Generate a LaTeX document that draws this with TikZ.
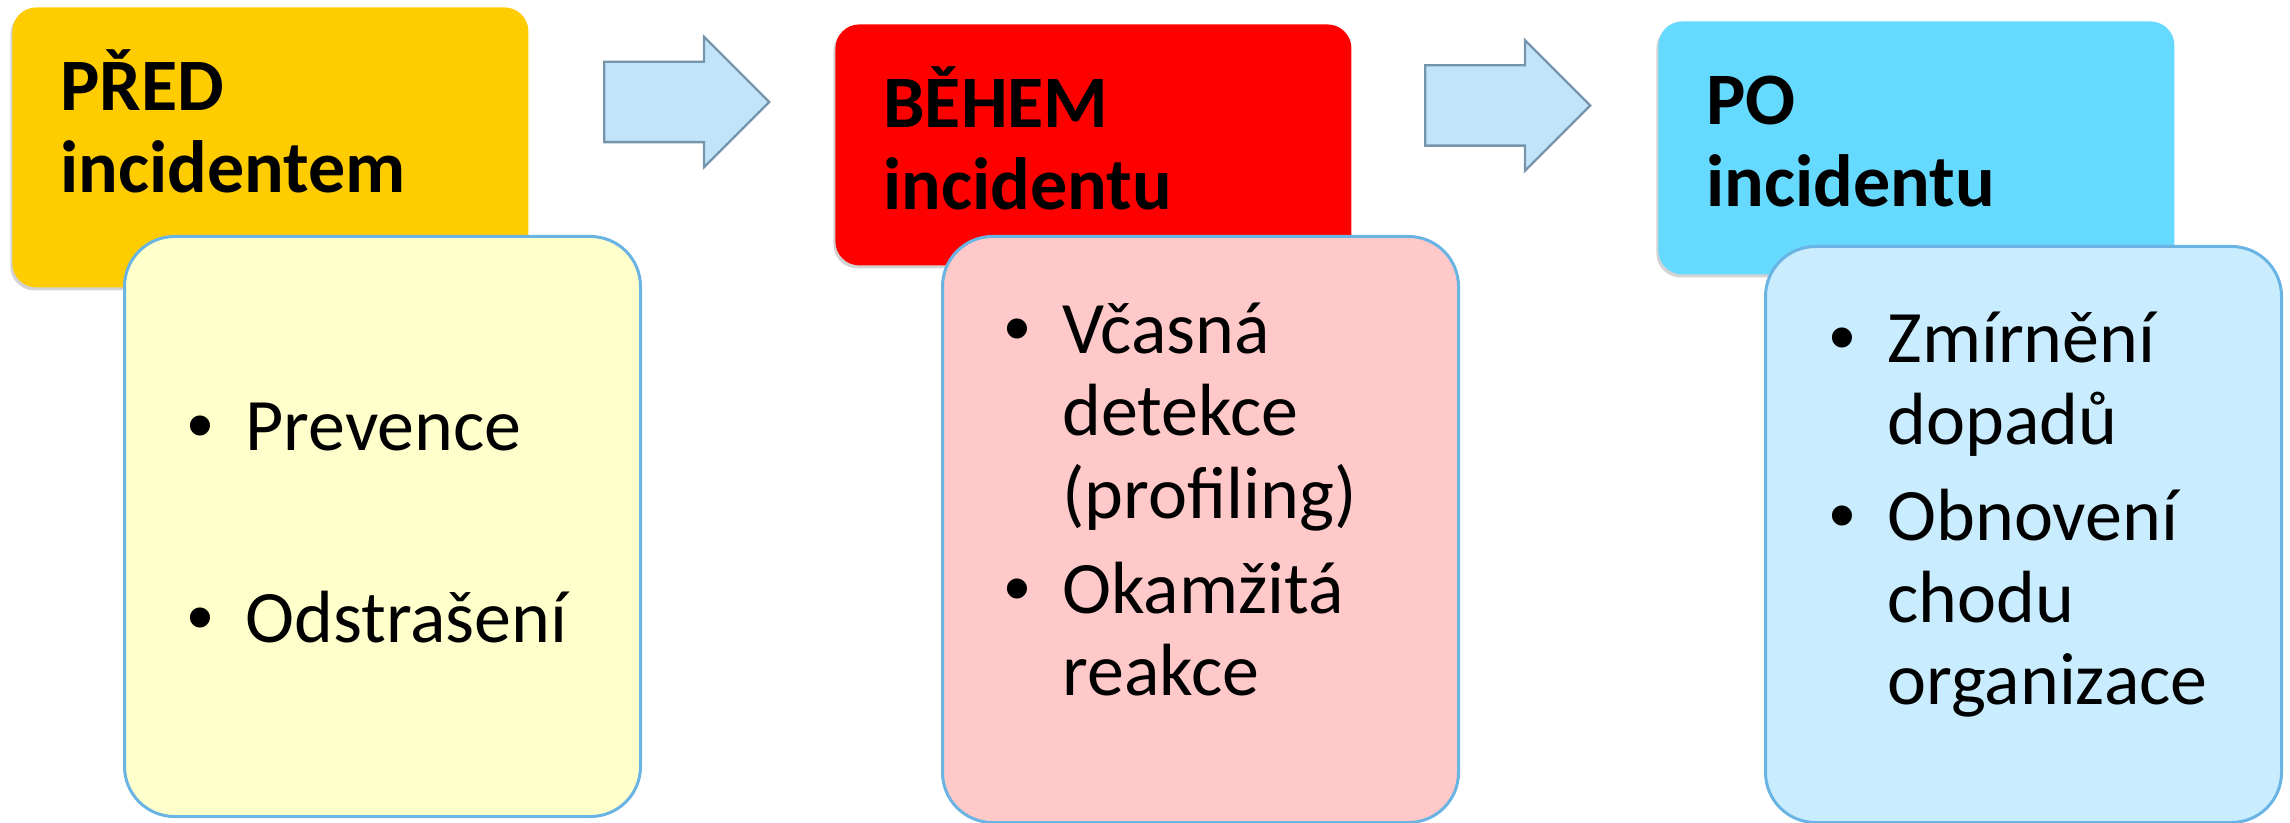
\documentclass[tikz,border=0pt]{standalone}
\usepackage{fontspec}
\setmainfont{Carlito}
\newfontfamily\bulletfont{Liberation Sans}
\usetikzlibrary{shapes.arrows,shadows}
\definecolor{predhead}{HTML}{FFCC00}
\definecolor{behemhead}{HTML}{FF0000}
\definecolor{pohead}{HTML}{66D9FF}
\definecolor{predbody}{HTML}{FFFFCC}
\definecolor{behembody}{HTML}{FFC9C9}
\definecolor{pobody}{HTML}{C9EDFE}
\definecolor{bodyline}{HTML}{6AB4E4}
\definecolor{arrowfill}{HTML}{C2E4FA}
\definecolor{arrowline}{HTML}{7794AD}
\newcommand{\itm}{{\bulletfont •}}
\begin{document}
\begin{tikzpicture}[x=.5pt,y=-.5pt,
    head/.style={rounded corners=12pt,minimum width=258pt,anchor=north west,
      drop shadow={shadow xshift=-1pt,shadow yshift=-1.5pt,opacity=.35}},
    body/.style={draw=bodyline,line width=1.5pt,rounded corners=25pt,minimum width=258pt,anchor=north west},
    title/.style={anchor=base west,inner sep=0pt,font=\fontsize{37}{41}\selectfont\bfseries},
    items/.style={anchor=base west,inner sep=0pt,font=\fontsize{37}{41}\selectfont},
    flow/.style={single arrow,single arrow head extend=12.5pt,minimum height=82.5pt,
      inner sep=0pt,inner ysep=19.5pt,fill=arrowfill,draw=arrowline,line width=1.2pt,anchor=tail}]
    \useasboundingbox (0,0) rectangle (2290,823);
    \node[head,fill=predhead,minimum height=140pt] (predH) at (12,7) {};
    \node[head,fill=behemhead,minimum height=120.5pt] (behemH) at (835,24) {};
    \node[head,fill=pohead,minimum height=126.5pt] (poH) at (1658,21) {};
    \node[flow] (arrA) at (603,102) {};
    \node[flow] (arrB) at (1424,105.5) {};
    \node[title] (predT) at (60,111) {\begin{tabular}[t]{@{}l@{}}PŘED\\incidentem\end{tabular}};
    \node[title] (behemT) at (883,128) {\begin{tabular}[t]{@{}l@{}}BĚHEM\\incidentu\end{tabular}};
    \node[title] (poT) at (1706,125) {\begin{tabular}[t]{@{}l@{}}PO\\incidentu\end{tabular}};
    \node[body,fill=predbody,minimum height=290pt] (predB) at (123,235) {};
    \node[body,fill=behembody,minimum height=293pt] (behemB) at (941,235) {};
    \node[body,fill=pobody,minimum height=288pt] (poB) at (1764,245) {};
    \node[items] (predL) at (187,450) {\begin{tabular}[t]{@{}p{29pt}@{}l@{}}
      \itm&Prevence\\[55.5pt]\itm&Odstrašení\end{tabular}};
    \node[items] (behemL) at (1004,354) {\begin{tabular}[t]{@{}p{29pt}@{}l@{}}
      \itm&Včasná\\&detekce\\&(profiling)\\[7pt]\itm&Okamžitá\\&reakce\end{tabular}};
    \node[items] (poL) at (1829,363) {\begin{tabular}[t]{@{}p{29pt}@{}l@{}}
      \itm&Zmírnění\\&dopadů\\[7pt]\itm&Obnovení\\&chodu\\&organizace\end{tabular}};
  \end{tikzpicture}
\end{document}
